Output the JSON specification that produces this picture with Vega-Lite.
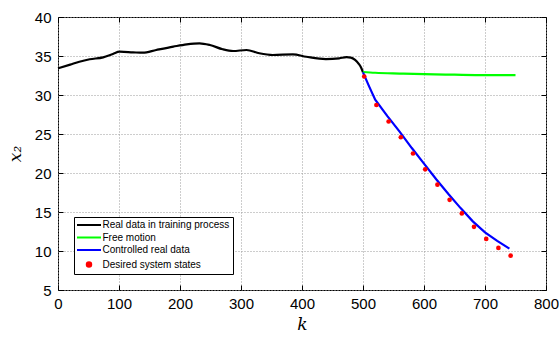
{
  "$schema": "https://vega.github.io/schema/vega-lite/v6.json",
  "autosize": "none",
  "padding": {"left": 58, "top": 17, "right": 13, "bottom": 47},
  "width": 488,
  "height": 273,
  "background": "white",
  "config": {
    "view": {"stroke": "black", "strokeWidth": 1},
    "font": "Liberation Sans",
    "axis": {
      "domain": false,
      "tickColor": "black",
      "tickSize": -5,
      "labelFontSize": 15,
      "labelColor": "black",
      "labelFont": "Liberation Sans",
      "grid": true,
      "gridColor": "#9a9a9a",
      "gridDash": [1, 2],
      "gridWidth": 1,
      "titleFont": "DejaVu Serif",
      "titleFontStyle": "italic",
      "titleFontWeight": "normal",
      "titleFontSize": 17,
      "titleColor": "black"
    }
  },
  "datasets": {
    "lines": [
      {"k": 0, "v": 33.42, "series": "Real data in training process"},
      {"k": 20, "v": 33.9, "series": "Real data in training process"},
      {"k": 35, "v": 34.27, "series": "Real data in training process"},
      {"k": 52, "v": 34.58, "series": "Real data in training process"},
      {"k": 74, "v": 34.83, "series": "Real data in training process"},
      {"k": 90, "v": 35.26, "series": "Real data in training process"},
      {"k": 101, "v": 35.55, "series": "Real data in training process"},
      {"k": 123, "v": 35.47, "series": "Real data in training process"},
      {"k": 139, "v": 35.42, "series": "Real data in training process"},
      {"k": 161, "v": 35.77, "series": "Real data in training process"},
      {"k": 189, "v": 36.2, "series": "Real data in training process"},
      {"k": 211, "v": 36.5, "series": "Real data in training process"},
      {"k": 232, "v": 36.63, "series": "Real data in training process"},
      {"k": 249, "v": 36.41, "series": "Real data in training process"},
      {"k": 270, "v": 35.86, "series": "Real data in training process"},
      {"k": 287, "v": 35.64, "series": "Real data in training process"},
      {"k": 309, "v": 35.77, "series": "Real data in training process"},
      {"k": 330, "v": 35.35, "series": "Real data in training process"},
      {"k": 352, "v": 35.13, "series": "Real data in training process"},
      {"k": 385, "v": 35.2, "series": "Real data in training process"},
      {"k": 407, "v": 34.9, "series": "Real data in training process"},
      {"k": 439, "v": 34.6, "series": "Real data in training process"},
      {"k": 461, "v": 34.7, "series": "Real data in training process"},
      {"k": 473, "v": 34.85, "series": "Real data in training process"},
      {"k": 480, "v": 34.8, "series": "Real data in training process"},
      {"k": 487, "v": 34.5, "series": "Real data in training process"},
      {"k": 493, "v": 34.0, "series": "Real data in training process"},
      {"k": 497, "v": 33.5, "series": "Real data in training process"},
      {"k": 500, "v": 32.9, "series": "Real data in training process"},
      {"k": 500, "v": 32.95, "series": "Free motion"},
      {"k": 520, "v": 32.85, "series": "Free motion"},
      {"k": 560, "v": 32.75, "series": "Free motion"},
      {"k": 600, "v": 32.67, "series": "Free motion"},
      {"k": 650, "v": 32.6, "series": "Free motion"},
      {"k": 700, "v": 32.55, "series": "Free motion"},
      {"k": 750, "v": 32.55, "series": "Free motion"}
    ],
    "blue": [
      {"k": 500, "v": 32.9, "series": "Controlled real data"},
      {"k": 510, "v": 31.1, "series": "Controlled real data"},
      {"k": 520, "v": 29.4, "series": "Controlled real data"},
      {"k": 540, "v": 27.3, "series": "Controlled real data"},
      {"k": 560, "v": 25.3, "series": "Controlled real data"},
      {"k": 580, "v": 23.2, "series": "Controlled real data"},
      {"k": 600, "v": 21.2, "series": "Controlled real data"},
      {"k": 620, "v": 19.2, "series": "Controlled real data"},
      {"k": 640, "v": 17.3, "series": "Controlled real data"},
      {"k": 660, "v": 15.5, "series": "Controlled real data"},
      {"k": 680, "v": 13.8, "series": "Controlled real data"},
      {"k": 700, "v": 12.4, "series": "Controlled real data"},
      {"k": 720, "v": 11.3, "series": "Controlled real data"},
      {"k": 740, "v": 10.3, "series": "Controlled real data"}
    ],
    "dots": [
      {"k": 502, "v": 32.37, "series": "Desired system states"},
      {"k": 522, "v": 28.72, "series": "Desired system states"},
      {"k": 542, "v": 26.6, "series": "Desired system states"},
      {"k": 562, "v": 24.58, "series": "Desired system states"},
      {"k": 582, "v": 22.5, "series": "Desired system states"},
      {"k": 602, "v": 20.47, "series": "Desired system states"},
      {"k": 622, "v": 18.5, "series": "Desired system states"},
      {"k": 642, "v": 16.56, "series": "Desired system states"},
      {"k": 662, "v": 14.82, "series": "Desired system states"},
      {"k": 682, "v": 13.1, "series": "Desired system states"},
      {"k": 702, "v": 11.55, "series": "Desired system states"},
      {"k": 722, "v": 10.39, "series": "Desired system states"},
      {"k": 742, "v": 9.4, "series": "Desired system states"}
    ]
  },
  "encoding": {
    "x": {
      "field": "k", "type": "quantitative",
      "scale": {"domain": [0, 800], "nice": false, "zero": false}
    },
    "y": {
      "field": "v", "type": "quantitative",
      "scale": {"domain": [5, 40], "nice": false, "zero": false}
    },
    "color": {
      "field": "series", "type": "nominal",
      "scale": {
        "domain": ["Real data in training process", "Free motion", "Controlled real data", "Desired system states"],
        "range": ["#000000", "#00ff00", "#0000ff", "#ff0000"]
      },
      "legend": {
        "title": null,
        "orient": "bottom-left",
        "offset": 16,
        "padding": 3,
        "strokeColor": "black",
        "fillColor": "white",
        "labelFontSize": 10,
        "labelFont": "Liberation Sans",
        "labelColor": "black",
        "labelOffset": 15.5,
        "rowPadding": 2.5,
        "symbolType": "stroke",
        "symbolSize": 64,
        "symbolStrokeWidth": 2,
        "labelLimit": 300,
        "encode": {
          "symbols": {
            "update": {
              "x": {"value": 12},
              "shape": {"signal": "datum.value === 'Desired system states' ? 'circle' : 'M-3,0L3,0'"},
              "size": {"signal": "datum.value === 'Desired system states' ? 20 : 64"},
              "fill": {"signal": "datum.value === 'Desired system states' ? '#ff0000' : 'transparent'"},
              "stroke": {"signal": "datum.value === 'Desired system states' ? 'transparent' : scale('color', datum.value)"},
              "strokeWidth": {"value": 2}
            }
          }
        }
      }
    }
  },
  "layer": [
    {
      "data": {"name": "lines"},
      "mark": {"type": "line", "strokeWidth": 2.2, "interpolate": "monotone"},
      "encoding": {
        "x": {"field": "k", "type": "quantitative", "axis": {"values": [0, 100, 200, 300, 400, 500, 600, 700, 800], "title": "k", "labelPadding": 11, "titlePadding": 5, "labelFlush": false}},
        "y": {"field": "v", "type": "quantitative", "axis": {"values": [5, 10, 15, 20, 25, 30, 35, 40], "title": "x₂", "labelPadding": 12, "titlePadding": 10, "labelFlush": false}},
        "detail": {"field": "series"}
      }
    },
    {
      "data": {"name": "blue"},
      "mark": {"type": "line", "strokeWidth": 2.2},
      "encoding": {
        "x": {"field": "k", "type": "quantitative", "axis": null},
        "y": {"field": "v", "type": "quantitative", "axis": null}
      }
    },
    {
      "data": {"name": "dots"},
      "mark": {"type": "point", "filled": true, "size": 22, "opacity": 1, "shape": "circle"},
      "encoding": {
        "x": {"field": "k", "type": "quantitative", "axis": {"orient": "top", "labels": false, "title": null, "grid": false, "values": [0, 100, 200, 300, 400, 500, 600, 700, 800]}},
        "y": {"field": "v", "type": "quantitative", "axis": {"orient": "right", "labels": false, "title": null, "grid": false, "values": [5, 10, 15, 20, 25, 30, 35, 40]}}
      }
    }
  ],
  "resolve": {"axis": {"x": "independent", "y": "independent"}}
}
